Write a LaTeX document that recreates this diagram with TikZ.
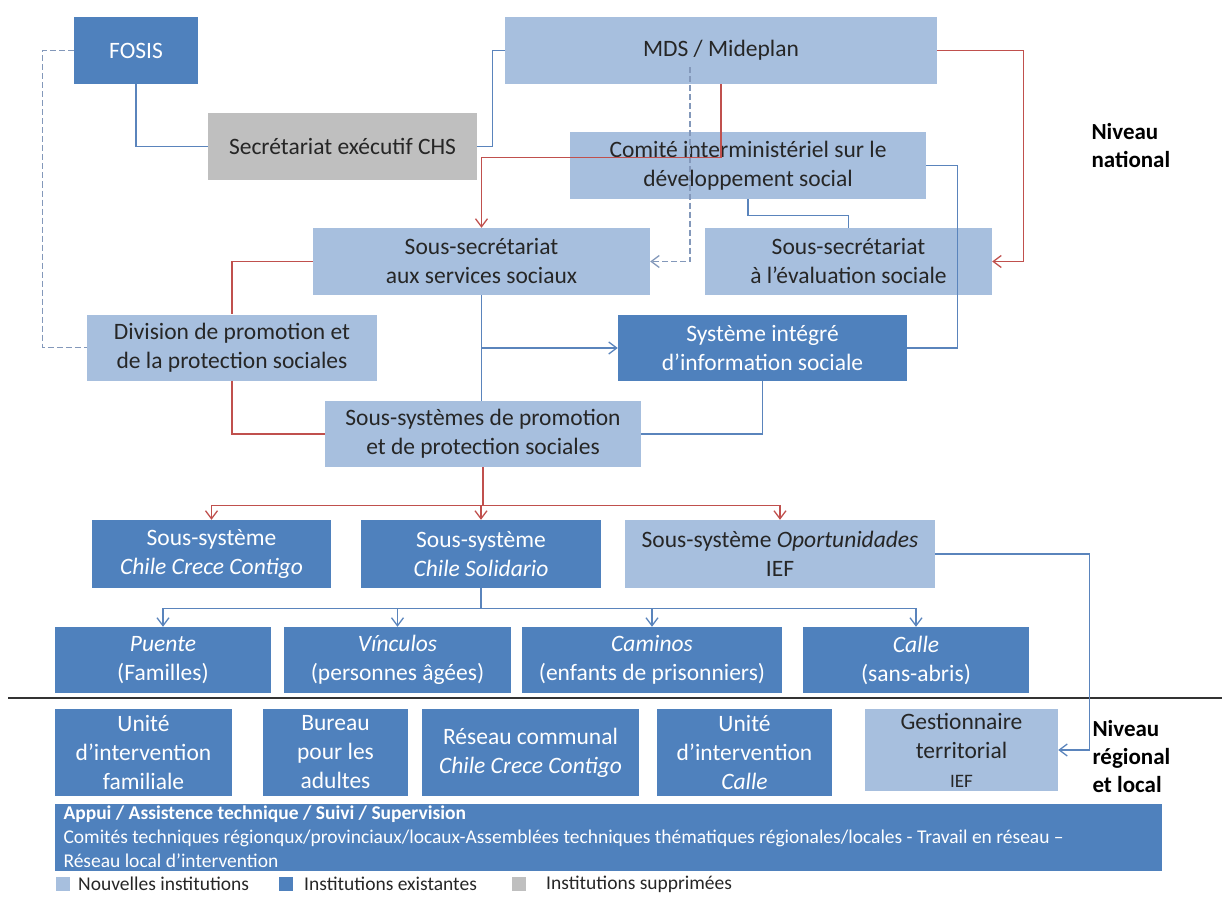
\documentclass[tikz,border=0pt]{standalone}
\usepackage{fontspec}
\setmainfont{Carlito}
\usetikzlibrary{arrows.meta}

\definecolor{newblue}{HTML}{A7BFDE}
\definecolor{oldblue}{HTML}{4F81BD}
\definecolor{gonegrey}{HTML}{BFBFBF}
\definecolor{linkblue}{HTML}{5A84BC}
\definecolor{linkred}{HTML}{C0504D}
\definecolor{dashblue}{HTML}{8398BA}
\definecolor{inktext}{HTML}{262626}

\begin{document}
\begin{tikzpicture}[x=1pt,y=-1pt,
  >={Straight Barb[length=8pt,width=12pt]},
  inst/.style={inner sep=1pt,align=center,font=\fontsize{23.5}{29}\selectfont},
  newinst/.style={inst,fill=newblue,text=inktext},
  oldinst/.style={inst,fill=oldblue,text=white},
  goneinst/.style={inst,fill=gonegrey,text=inktext},
  dims/.style 2 args={minimum width=#1,minimum height=#2},
  link/.style={draw=linkblue,line width=1.3pt},
  redlink/.style={draw=linkred,line width=1.3pt},
  dashlink/.style={draw=dashblue,line width=1.3pt,dash pattern=on 6pt off 3pt},
  level/.style={anchor=west,align=left,font=\bfseries\fontsize{23}{28}\selectfont},
]
  \useasboundingbox (0,0) rectangle (1222,896);

  % national level
  \node[oldinst,dims={124}{67}] (fosis) at (136,50.5) {FOSIS};
  \node[newinst,dims={432}{67}] (mds) at (721,50.5) {MDS / Mideplan};
  \node[goneinst,dims={269}{67}] (chs) at (342.5,146.5) {Secrétariat exécutif CHS};
  \node[newinst,dims={356}{67}] (comite) at (748,165.5) {Comité interministériel sur le\\développement social};
  \node[newinst,dims={337}{67}] (ssoc) at (481.5,261.5) {Sous-secrétariat\\aux services sociaux};
  \node[newinst,dims={287}{67}] (seval) at (848.5,261.5) {Sous-secrétariat\\à l’évaluation sociale};
  \node[newinst,dims={290}{66}] (div) at (232,347.5) {Division de promotion et\\de la protection sociales};
  \node[oldinst,dims={289}{66}] (sis) at (762.5,348) {Système intégré\\d’information sociale};
  \node[newinst,dims={316}{66}] (sprom) at (483,434) {Sous-systèmes de promotion\\et de protection sociales};

  % sub-systems
  \node[oldinst,dims={239}{68}] (ccc) at (211.5,554) {Sous-système\\\textit{Chile Crece Contigo}};
  \node[oldinst,dims={240}{68}] (csol) at (481,554) {Sous-système\\\textit{Chile Solidario}};
  \node[newinst,dims={310}{68}] (opor) at (780,554) {Sous-système \textit{Oportunidades}\\IEF};
  \node[oldinst,dims={216}{66}] (puente) at (163,660) {\textit{Puente}\\(Familles)};
  \node[oldinst,dims={227}{66}] (vinc) at (397.5,660) {\textit{Vínculos}\\(personnes âgées)};
  \node[oldinst,dims={260}{66}] (cam) at (652,660) {\textit{Caminos}\\(enfants de prisonniers)};
  \node[oldinst,dims={226}{66}] (calle) at (916,660) {\textit{Calle}\\(sans-abris)};

  \draw[line width=2pt,black!80] (8,698) -- (1222,698);

  % regional and local level
  \node[oldinst,dims={177}{87}] (ufam) at (143.5,752.5) {Unité\\d’intervention\\familiale};
  \node[oldinst,dims={145}{87}] (bur) at (335.5,752.5) {Bureau\\pour les\\adultes};
  \node[oldinst,dims={217}{87}] (res) at (530.5,752.5) {Réseau communal\\\textit{Chile Crece Contigo}};
  \node[oldinst,dims={175}{87}] (ucalle) at (744.5,752.5) {Unité\\d’intervention\\\textit{Calle}};
  \node[newinst,dims={193}{82}] (gest) at (961.5,750) {Gestionnaire\\territorial\\{\fontsize{19}{24}\selectfont IEF}};
  \node[oldinst,dims={1107}{67},align=flush left,text width=1090,inner ysep=0pt,inner xsep=8.5pt,
    font=\fontsize{19.5}{24}\selectfont] (appui) at (608.5,837)
    {\textbf{Appui / Assistence technique / Suivi / Supervision}\\
     Comités techniques régionqux/provinciaux/locaux-Assemblées techniques thématiques régionales/locales - Travail en réseau –\\
     Réseau local d’intervention};

  \node[level] (natl) at (1088,146) {Niveau\\national};
  \node[level] (regl) at (1089,757) {Niveau\\régional\\et local};

  % legend
  \foreach \c/\x/\lx/\t [count=\i] in {newblue/56/78/Nouvelles institutions,
      oldblue/279/304/Institutions existantes,gonegrey/512/546/Institutions supprimées}{
    \node[fill=\c,dims={14}{14},inner sep=0pt] (key\i) at (\x+7,884) {};
    \node[anchor=west,inner sep=0pt,text=inktext,font=\fontsize{19.5}{24}\selectfont] (lab\i) at (\lx,884) {\t};
  }

  % connectors
  \draw[link] (fosis.south) |- (chs.west);
  \draw[link] (chs.east) -- ++(15,0) |- (mds.west);
  \draw[dashlink] (fosis.west) -- ++(-31,0) |- (div.west);
  \draw[dashlink,->] ([shift={(-31,17)}]mds.center) |- (ssoc.east);
  \draw[redlink,->] (mds.south) -- ++(0,73) -| (ssoc.north);
  \draw[redlink,->] (mds.east) -- ++(86,0) |- (seval.east);
  \draw[link] (comite.south) -- ++(0,16) -| (seval.north);
  \draw[link] (comite.east) -- ++(31,0) |- (sis.east);
  \draw[link] (ssoc.south) -- (ssoc.south |- sprom.north);
  \draw[link,->] (ssoc.south |- sis.west) -- (sis.west);
  \draw[link] (sis.south) |- (sprom.east);
  \draw[redlink] (ssoc.west) -| (div.north);
  \draw[redlink] (div.south) |- (sprom.west);
  \draw[redlink] (sprom.south) -- ++(0,38) coordinate (rsplit);
  \foreach \n in {ccc,csol,opor}
    \draw[redlink,->] (rsplit) -| (\n.north);
  \draw[link] (csol.south) -- ++(0,20) coordinate (bsplit);
  \foreach \n in {puente,vinc,cam,calle}
    \draw[link,->] (bsplit) -| (\n.north);
  \draw[link,->] (opor.east) -- ++(154,0) |- (gest.east);
\end{tikzpicture}
\end{document}
